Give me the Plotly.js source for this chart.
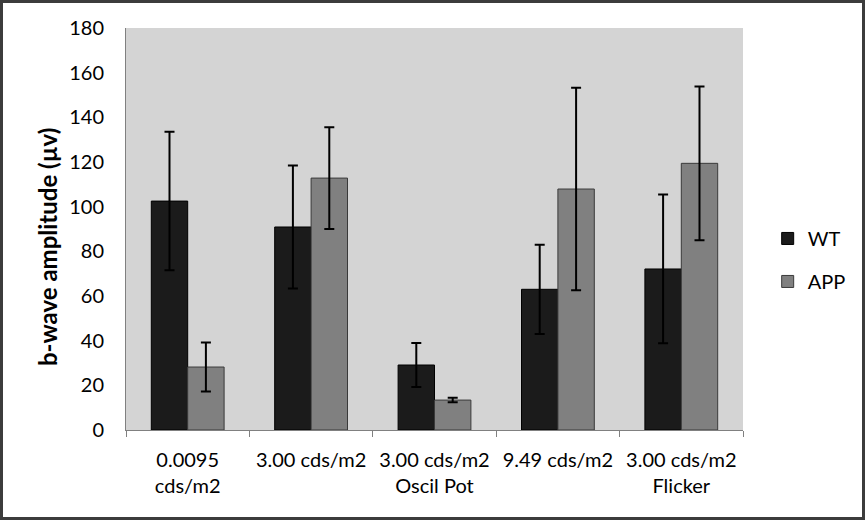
<!DOCTYPE html>
<html>
<head>
<meta charset="utf-8">
<script src="https://cdn.plot.ly/plotly-3.0.1.min.js"></script>
<style>
html,body{margin:0;padding:0;background:#fff;}
#wrap{position:relative;width:865px;height:520px;}
#chart{width:865px;height:520px;}
#frame{position:absolute;left:0;top:0;width:865px;height:520px;box-sizing:border-box;border:3px solid #3c3c3c;pointer-events:none;}
</style>
</head>
<body>
<div id="wrap"><div id="chart"></div><div id="frame"></div></div>
<script>
const categories = ["0.0095<br>cds/m2", "3.00 cds/m2", "3.00 cds/m2<br>Oscil Pot", "9.49 cds/m2", "3.00 cds/m2<br>Flicker"];
const wtValues = [102.5, 90.9, 29.1, 63.0, 72.1];
const wtErrors = [31.0, 27.5, 9.8, 20.0, 33.3];
const appValues = [28.2, 112.8, 13.4, 107.9, 119.4];
const appErrors = [11.0, 22.8, 1.0, 45.3, 34.4];
const yTicks = [0, 20, 40, 60, 80, 100, 120, 140, 160, 180];
const yTitle = "b-wave amplitude (µv)";

const font = {family: "Lato, 'Open Sans', sans-serif", size: 20, color: "#000"};

const traces = [
  {type: "bar", name: "WT", x: categories, y: wtValues, legendgroup: "a",
   marker: {color: "#1b1b1b", line: {color: "#000", width: 1}},
   error_y: {type: "data", array: wtErrors, visible: true, color: "#000", thickness: 2, width: 5}},
  {type: "bar", name: "APP", x: categories, y: appValues, legendgroup: "b",
   marker: {color: "#808080", line: {color: "#3a3a3a", width: 1}},
   error_y: {type: "data", array: appErrors, visible: true, color: "#000", thickness: 2, width: 5}}
];

const layout = {
  width: 865, height: 520,
  margin: {l: 126, r: 122, t: 28, b: 90},
  paper_bgcolor: "#fff",
  plot_bgcolor: "#d4d4d4",
  font: font,
  barmode: "group",
  bargap: 0.41,
  bargroupgap: 0,
  showlegend: true,
  legend: {x: 1.04, y: 0.423, xanchor: "left", yanchor: "middle", font: {family: font.family, size: 20, color: "#000"},
           traceorder: "grouped", tracegroupgap: 14, bgcolor: "rgba(0,0,0,0)", itemwidth: 30},
  xaxis: {type: "category", tickson: "boundaries", ticks: "outside", ticklen: 6, tickcolor: "#808080",
          showline: true, linecolor: "#808080", linewidth: 1, showgrid: false, tickfont: font, automargin: false,
          ticklabelstandoff: 12},
  yaxis: {range: [0, 180], tickvals: yTicks, ticks: "outside", ticklen: 17, tickcolor: "rgba(0,0,0,0)",
          showline: true, linecolor: "#808080", linewidth: 1, showgrid: false, zeroline: false,
          tickfont: font, automargin: false},
  yaxis2: {range: [0, 180], tickvals: yTicks, overlaying: "y", side: "left", anchor: "x",
           ticks: "outside", ticklen: 6, tickcolor: "#808080", showticklabels: false,
           showline: false, showgrid: false, zeroline: false, automargin: false},
  annotations: [{text: "<b>" + yTitle + "</b>", textangle: -90, xref: "paper", yref: "paper",
                 x: -0.128, y: 0.455, xanchor: "center", yanchor: "middle", showarrow: false,
                 font: {family: font.family, size: 24, color: "#000"}}]
};

Plotly.newPlot("chart", traces, layout, {displayModeBar: false, staticPlot: true});
</script>
</body>
</html>
